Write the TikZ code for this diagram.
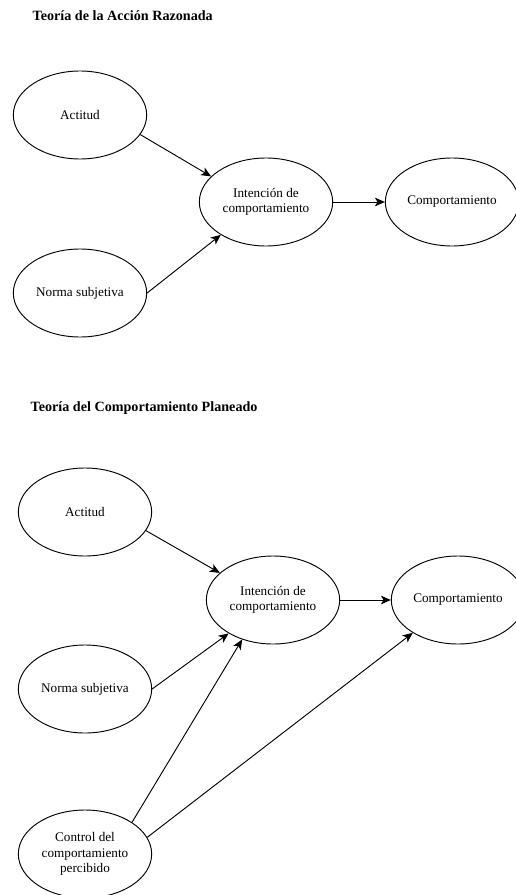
\documentclass[tikz,border=0pt]{standalone}
\usepackage{fontspec}
\setmainfont{Liberation Serif}
\usetikzlibrary{shapes.geometric,arrows.meta}
\tikzset{
  elipse/.style={ellipse, draw, line width=0.7pt, minimum width=100pt,
    minimum height=66pt, inner sep=0pt, align=center,
    font=\fontsize{9.9}{11.6}\selectfont},
  flecha/.style={-{Stealth[length=7.5pt,width=6.5pt,inset=2pt]}, line width=0.7pt},
  titulo/.style={anchor=west, font=\fontsize{10.6}{12}\selectfont\bfseries}
}
\begin{document}
\begin{tikzpicture}[x=0.75pt,y=-0.75pt]
  \useasboundingbox (0,0) rectangle (515,895);
  % Teoria de la Accion Razonada
  \node[titulo] (tituloA) at (28,16) {Teoría de la Acción Razonada};
  \node[elipse] (actitudA) at (80,115) {Actitud};
  \node[elipse] (normaA) at (80,293) {Norma subjetiva};
  \node[elipse] (intencionA) at (266,202) {Intención de\\comportamiento};
  \node[elipse] (compA) at (452,202) {Comportamiento};
  \draw[flecha] (actitudA.-18) -- (intencionA.155);
  \draw[flecha] (normaA.east) -- (intencionA.216);
  \draw[flecha] (intencionA.east) -- (compA.west);
  % Teoria del Comportamiento Planeado
  \node[titulo] (tituloB) at (26,408) {Teoría del Comportamiento Planeado};
  \node[elipse] (actitudB) at (85,512) {Actitud};
  \node[elipse] (normaB) at (85,689) {Norma subjetiva};
  \node[elipse] (controlB) at (85,854) {Control del\\comportamiento\\percibido};
  \node[elipse] (intencionB) at (273,600) {Intención de\\comportamiento};
  \node[elipse] (compB) at (458,600) {Comportamiento};
  \draw[flecha] (actitudB.-17) -- (intencionB.153);
  \draw[flecha] (normaB.east) -- (intencionB.217);
  \draw[flecha] (controlB.34) -- (intencionB.232);
  \draw[flecha] (controlB.15) -- (compB.216);
  \draw[flecha] (intencionB.east) -- (compB.west);
\end{tikzpicture}
\end{document}
